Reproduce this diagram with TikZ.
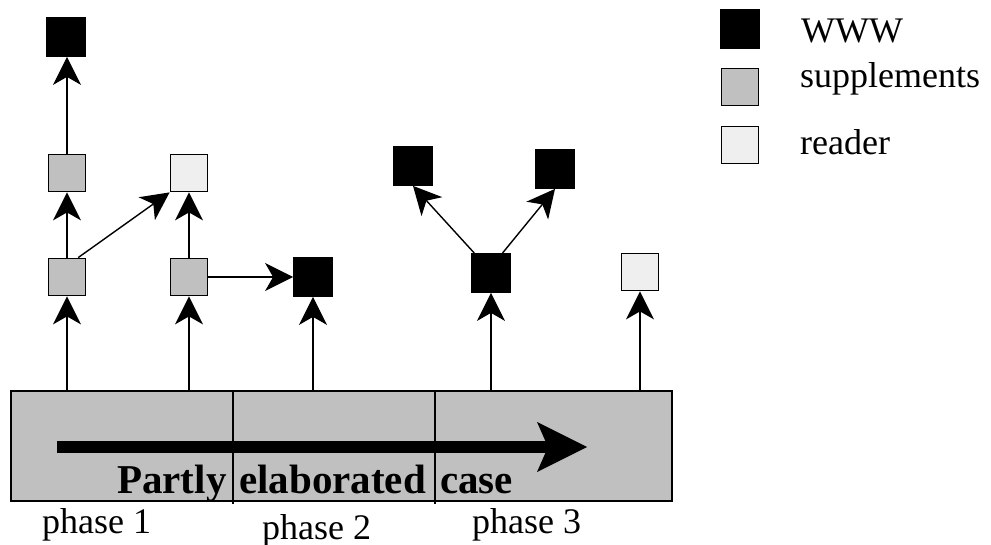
\documentclass[tikz,border=0pt]{standalone}
\usepackage{fontspec}
\setmainfont{Liberation Serif}
\usetikzlibrary{arrows.meta}
\definecolor{suppgray}{HTML}{C0C0C0}
\definecolor{readergray}{HTML}{EFEFEF}
\begin{document}
\begin{tikzpicture}[x=1pt,y=-1pt,
  sq/.style={rectangle,minimum width=37pt,minimum height=37pt,inner sep=0pt,line width=1.8pt,draw=black},
  www/.style={sq,fill=black,minimum width=38pt,minimum height=38pt},
  supp/.style={sq,fill=suppgray},
  rdr/.style={sq,fill=readergray},
  conn/.style={line width=1.4pt,-{Stealth[length=28pt,width=28pt,inset=8pt]}},
  bigarrow/.style={line width=12pt,-{Stealth[length=50pt,width=50pt,inset=11pt,line width=0pt]}},
  lbl/.style={anchor=base west,inner sep=0pt,font=\fontsize{36}{43}\selectfont},
  blbl/.style={anchor=base west,inner sep=0pt,font=\fontsize{41}{48}\selectfont\bfseries}]
\useasboundingbox (0,0) rectangle (991,545);
% bar
\node[rectangle,draw=black,line width=1.5pt,fill=suppgray,minimum width=661pt,minimum height=110pt,inner sep=0pt] (bar) at (341.5,446) {};
\coordinate (d1t) at (233,391); \coordinate (d1b) at (233,504);
\coordinate (d2t) at (435,391); \coordinate (d2b) at (435,504);
\draw[line width=1.2pt] (d1t) -- (d1b);
\draw[line width=1.2pt] (d2t) -- (d2b);
\coordinate (as) at (57,447); \coordinate (ae) at (587,447);
\draw[bigarrow] (as) -- (ae);
\node[blbl] (t1) at (117,493) {Partly};
\node[blbl] (t2) at (239,493) {elaborated};
\node[blbl] (t3) at (440,493) {case};
\node[lbl] (p1) at (42,533) {phase 1};
\node[lbl] (p2) at (262,539) {phase 2};
\node[lbl] (p3) at (472,533) {phase 3};
% boxes
\node[www] (wtop) at (66,37) {};
\node[supp] (s1b) at (67,173) {};
\node[supp] (s1a) at (67,277) {};
\node[rdr] (r1) at (189,173) {};
\node[supp] (s2a) at (189,277) {};
\node[www] (w2) at (313,277) {};
\node[www] (w3) at (491,273) {};
\node[www] (w3l) at (413,166) {};
\node[www] (w3r) at (555,169) {};
\node[rdr] (r3) at (640,272) {};
% connectors
\draw[conn] (bar.north -| s1a) -- (s1a.south);
\draw[conn] (bar.north -| s2a) -- (s2a.south);
\draw[conn] (bar.north -| w2) -- (w2.south);
\draw[conn] (bar.north -| w3) -- (w3.south);
\draw[conn] (bar.north -| r3) -- (r3.south);
\draw[conn] (s1a.north) -- (s1b.south);
\draw[conn] (s1b.north) -- (s1b.north |- wtop.south);
\draw[conn] (s1a.60) -- (r1.south west);
\draw[conn] (s2a.north) -- (r1.south);
\draw[conn] (s2a.east) -- (w2.west);
\draw[conn] (w3.130) -- (w3l.south);
\draw[conn] (w3.60) -- (w3r.south);
% legend
\node[www] (lw) at (740,29) {};
\node[supp] (ls) at (740,87) {};
\node[rdr] (lr) at (740,145) {};
\node[lbl] (lwt) at (801,43) {WWW};
\node[lbl] (lst) at (800,88) {supplements};
\node[lbl] (lrt) at (800,155) {reader};
\end{tikzpicture}
\end{document}
